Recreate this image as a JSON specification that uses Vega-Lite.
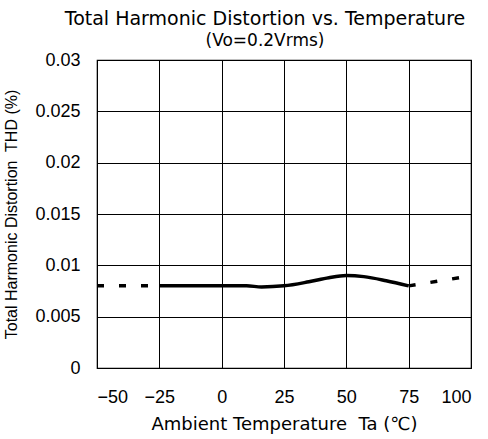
{
  "$schema": "https://vega.github.io/schema/vega-lite/v6.json",
  "width": 374,
  "height": 308,
  "autosize": "none",
  "padding": {"left": 97, "top": 60, "right": 17, "bottom": 71},
  "background": "white",
  "config": {
    "font": "Liberation Sans",
    "view": {"stroke": "black", "strokeWidth": 1.2},
    "axis": {"labelFont": "Liberation Sans", "titleFont": "DejaVu Sans", "labelColor": "black", "titleColor": "black", "gridColor": "black", "gridOpacity": 1, "gridWidth": 1, "domain": false, "ticks": false, "titleFontWeight": "normal"}
  },
  "title": {
    "text": "Total Harmonic Distortion vs. Temperature",
    "subtitle": "(Vo=0.2Vrms)",
    "font": "DejaVu Sans",
    "fontSize": 19,
    "fontWeight": "normal",
    "subtitleFont": "DejaVu Sans",
    "subtitleFontSize": 17,
    "subtitleColor": "black",
    "color": "black",
    "anchor": "middle",
    "dx": -19,
    "offset": 2,
    "subtitlePadding": 4
  },
  "data": {
    "values": [
      {"t": -50, "thd": 0.0080, "seg": "left"},
      {"t": -25, "thd": 0.0080, "seg": "left"},
      {"t": -25, "thd": 0.0080, "seg": "main"},
      {"t": 0, "thd": 0.0080, "seg": "main"},
      {"t": 10, "thd": 0.0080, "seg": "main"},
      {"t": 16, "thd": 0.0079, "seg": "main"},
      {"t": 25, "thd": 0.0080, "seg": "main"},
      {"t": 35, "thd": 0.0084, "seg": "main"},
      {"t": 43, "thd": 0.0088, "seg": "main"},
      {"t": 50, "thd": 0.0090, "seg": "main"},
      {"t": 57, "thd": 0.0089, "seg": "main"},
      {"t": 66, "thd": 0.0085, "seg": "main"},
      {"t": 75, "thd": 0.0080, "seg": "main"},
      {"t": 75, "thd": 0.0080, "seg": "right"},
      {"t": 95.5, "thd": 0.0088, "seg": "right"}
    ]
  },
  "layer": [
    {
      "transform": [{"filter": "datum.seg === 'main'"}],
      "mark": {"type": "line", "color": "black", "strokeWidth": 3.5, "interpolate": "monotone"},
      "encoding": {
        "x": {"field": "t", "type": "quantitative", "scale": {"domain": [-50, 100], "nice": false}, "axis": {"values": [-50, -25, 0, 25, 50, 75, 100], "labelFontSize": 18, "labelPadding": 20, "title": "Ambient Temperature\u00a0 Ta (℃)", "titleFontSize": 18, "titlePadding": 9}},
        "y": {"field": "thd", "type": "quantitative", "scale": {"domain": [0, 0.03], "nice": false}, "axis": {"values": [0, 0.005, 0.01, 0.015, 0.02, 0.025, 0.03], "format": "~g", "labelFontSize": 18, "labelPadding": 17, "title": "Total Harmonic Distortion\u00a0 THD (%)", "titleFont": "Liberation Sans Narrow, Liberation Sans", "titleFontSize": 16, "titlePadding": 15}}
      }
    },
    {
      "transform": [{"filter": "datum.seg !== 'main'"}],
      "mark": {"type": "line", "color": "black", "strokeWidth": 3.5, "strokeDash": [7, 15]},
      "encoding": {
        "x": {"field": "t", "type": "quantitative"},
        "y": {"field": "thd", "type": "quantitative"},
        "detail": {"field": "seg"}
      }
    }
  ]
}
